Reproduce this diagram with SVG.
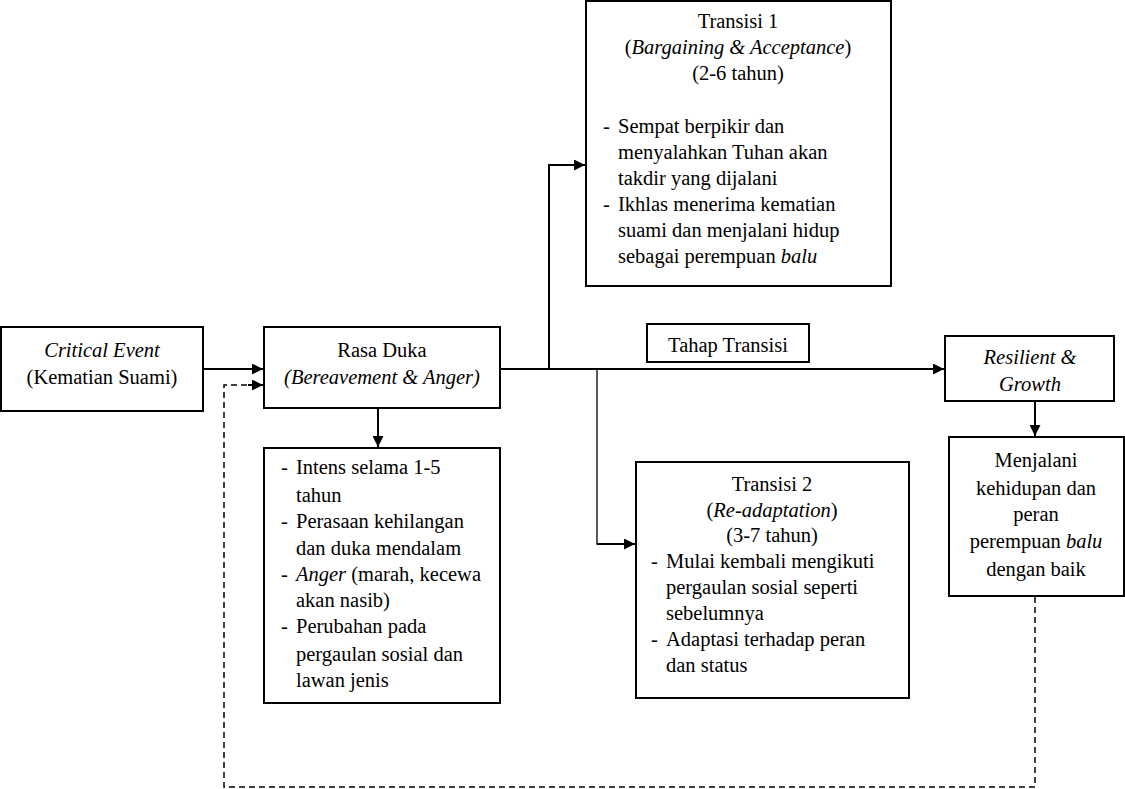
<svg xmlns="http://www.w3.org/2000/svg" width="1125" height="789" viewBox="0 0 1125 789">
<style>
.box{fill:#fff;stroke:#000;stroke-width:2}
.t{font-family:"Liberation Serif", serif;font-size:20.5px;fill:#000}
.c{text-anchor:middle}
.i{font-style:italic}
.ln{fill:none;stroke:#000;stroke-width:2}
.thin{fill:none;stroke:#000;stroke-width:1.3}
.dash{fill:none;stroke:#000;stroke-width:1.5;stroke-dasharray:6 4}
</style>
<defs>
<marker id="ah" viewBox="0 0 10 10" refX="10" refY="5" markerWidth="12" markerHeight="11" markerUnits="userSpaceOnUse" orient="auto">
<path d="M0,0 L10,5 L0,10 z" fill="#000"/>
</marker>
</defs>
<rect width="1125" height="789" fill="#fff"/>
<g id="connectors">
<line class="ln" x1="203" y1="369" x2="263" y2="369" marker-end="url(#ah)"/>
<line class="ln" x1="500" y1="369" x2="944" y2="369" marker-end="url(#ah)"/>
<polyline class="ln" points="549,369 549,165 585,165" marker-end="url(#ah)"/>
<polyline class="thin" points="597,369 597,544 620,544"/>
<line class="ln" x1="597" y1="544" x2="635" y2="544" marker-end="url(#ah)"/>
<line class="ln" x1="378" y1="408" x2="378" y2="447" marker-end="url(#ah)"/>
<line class="ln" x1="1035" y1="401" x2="1035" y2="436" marker-end="url(#ah)"/>
<polyline class="dash" points="1035,597 1035,787 224,787 224,385 250,385"/>
<line class="ln" x1="248" y1="385" x2="263" y2="385" marker-end="url(#ah)"/>
</g>
<g id="critical-event">
<rect class="box" x="1" y="327" width="202" height="84"/>
<text class="t c i" x="102" y="357">Critical Event</text>
<text class="t c" x="102" y="384">(Kematian Suami)</text>
</g>
<g id="rasa-duka">
<rect class="box" x="264" y="327" width="236" height="81"/>
<text class="t c" x="382" y="357">Rasa Duka</text>
<text class="t c i" x="382" y="384">(Bereavement &amp; Anger)</text>
</g>
<g id="rasa-duka-detail">
<rect class="box" x="264" y="448" width="236" height="255"/>
<text class="t" x="281" y="474">-</text><text class="t" x="296" y="474">Intens selama 1-5</text>
<text class="t" x="296" y="502">tahun</text>
<text class="t" x="281" y="528">-</text><text class="t" x="296" y="528">Perasaan kehilangan</text>
<text class="t" x="296" y="555">dan duka mendalam</text>
<text class="t" x="281" y="581">-</text><text class="t" x="296" y="581"><tspan font-style="italic">Anger</tspan> (marah, kecewa</text>
<text class="t" x="296" y="607">akan nasib)</text>
<text class="t" x="281" y="633">-</text><text class="t" x="296" y="633">Perubahan pada</text>
<text class="t" x="296" y="661">pergaulan sosial dan</text>
<text class="t" x="296" y="687">lawan jenis</text>
</g>
<g id="transisi-1">
<rect class="box" x="586" y="1" width="305" height="285"/>
<text class="t c" x="738" y="28">Transisi 1</text>
<text class="t c" x="738" y="54">(<tspan font-style="italic">Bargaining &amp; Acceptance</tspan>)</text>
<text class="t c" x="738" y="80">(2-6 tahun)</text>
<text class="t" x="603" y="133">-</text><text class="t" x="618" y="133">Sempat berpikir dan</text>
<text class="t" x="618" y="159">menyalahkan Tuhan akan</text>
<text class="t" x="618" y="185">takdir yang dijalani</text>
<text class="t" x="603" y="211">-</text><text class="t" x="618" y="211">Ikhlas menerima kematian</text>
<text class="t" x="618" y="237">suami dan menjalani hidup</text>
<text class="t" x="618" y="263">sebagai perempuan <tspan font-style="italic">balu</tspan></text>
</g>
<g id="tahap-transisi">
<rect class="box" x="647" y="324" width="162" height="38"/>
<text class="t c" x="728" y="352">Tahap Transisi</text>
</g>
<g id="transisi-2">
<rect class="box" x="636" y="462" width="273" height="236"/>
<text class="t c" x="772" y="491">Transisi 2</text>
<text class="t c" x="772" y="517">(<tspan font-style="italic">Re-adaptation</tspan>)</text>
<text class="t c" x="772" y="542">(3-7 tahun)</text>
<text class="t" x="651" y="568">-</text><text class="t" x="666" y="568">Mulai kembali mengikuti</text>
<text class="t" x="666" y="594">pergaulan sosial seperti</text>
<text class="t" x="666" y="620">sebelumnya</text>
<text class="t" x="651" y="646">-</text><text class="t" x="666" y="646">Adaptasi terhadap peran</text>
<text class="t" x="666" y="672">dan status</text>
</g>
<g id="resilient">
<rect class="box" x="945" y="336" width="169" height="65"/>
<text class="t c i" x="1030" y="364">Resilient &amp;</text>
<text class="t c i" x="1030" y="391">Growth</text>
</g>
<g id="menjalani">
<rect class="box" x="949" y="437" width="175" height="159"/>
<text class="t c" x="1036" y="467">Menjalani</text>
<text class="t c" x="1036" y="495">kehidupan dan</text>
<text class="t c" x="1036" y="521">peran</text>
<text class="t c" x="1036" y="548">perempuan <tspan font-style="italic">balu</tspan></text>
<text class="t c" x="1036" y="576">dengan baik</text>
</g>
</svg>
